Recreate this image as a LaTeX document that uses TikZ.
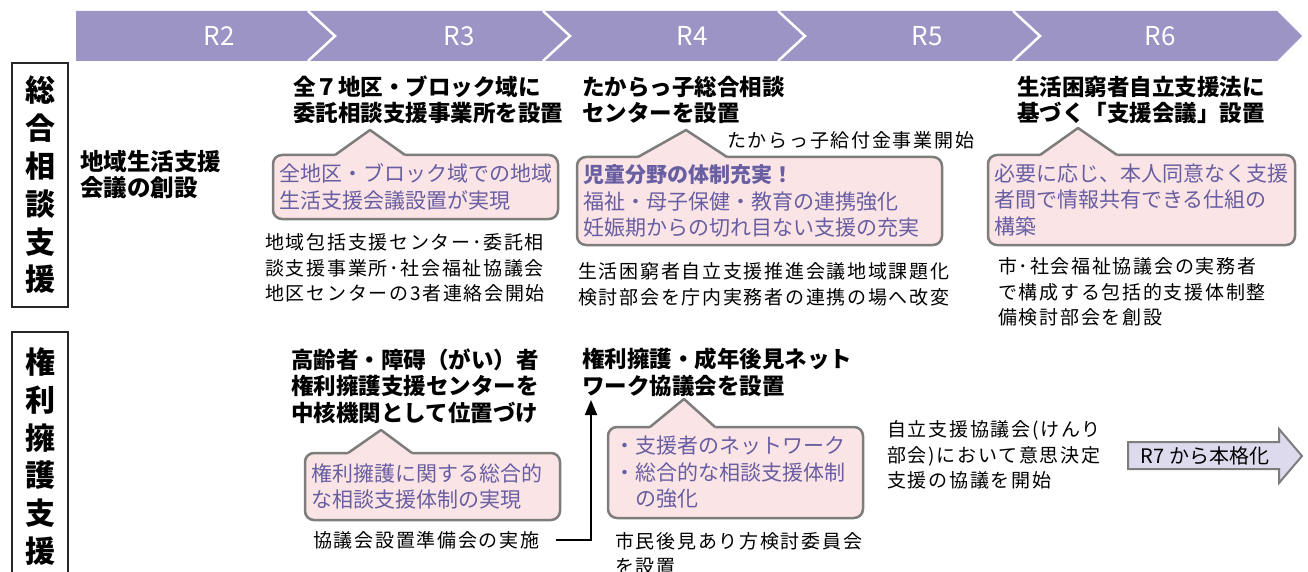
\documentclass[tikz,border=0pt]{standalone}
\usepackage{fontspec}
\setmainfont{Noto Sans CJK JP}
\usetikzlibrary{arrows.meta,positioning}

\definecolor{band}{RGB}{155,148,196}
\definecolor{callfill}{RGB}{251,228,230}
\definecolor{callline}{RGB}{125,125,125}
\definecolor{calltext}{RGB}{104,94,162}
\definecolor{laterfill}{RGB}{220,218,236}

\begin{document}
\begin{tikzpicture}[x=1pt,y=-1pt,
  head/.style={anchor=west, inner sep=0pt, align=left, font=\fontsize{22.5}{26.5}\selectfont\bfseries},
  note/.style={anchor=west, inner sep=0pt, align=left, font=\fontsize{19}{25.5}\selectfont\addfontfeatures{LetterSpace=9}},
  callout/.style={draw=callline, line width=2.5pt, fill=callfill, rounded corners=9pt, text=calltext, align=left, inner xsep=6pt, inner ysep=0pt, font=\fontsize{21}{26.5}\selectfont},
  year/.style={text=white, font=\fontsize{26}{26}\selectfont},
  sidebox/.style={draw=black!85, line width=1.3pt, minimum width=56pt, align=center, font=\fontsize{30}{37.8}\selectfont\bfseries}]
\useasboundingbox (0,0) rectangle (1308,572);

% year band
\fill[band] (76,11) -- (1277,11) -- (1302,36) -- (1277,61) -- (76,61) -- cycle;
\foreach \x in {308,543,778,1013}
  \draw[white, line width=2.5pt] (\x,11) -- (\x+27,36) -- (\x,61);
\foreach \x/\n in {219/2,459/3,692/4,927/5,1160/6}
  \node[year] (r\n) at (\x,36) {R\n};

\node[sidebox, minimum height=244pt] (sogo) at (40,185) {総\\合\\相\\談\\支\\援};
\node[sidebox, minimum height=249pt] (kenri) at (40,456.5) {権\\利\\擁\\護\\支\\援};

% upper row
\node[head, font=\fontsize{23.5}{26}\selectfont\bfseries] (start) at (80,175) {地域生活支援\\会議の創設};
\node[head] (hdA) at (293,100) {全７地区・ブロック域に\\委託相談支援事業所を設置};
\node[head] (hdB) at (582,100) {たからっ子総合相談\\センターを設置};
\node[head] (hdC) at (1017,100) {生活困窮者自立支援法に\\基づく「支援会議」設置};

\node[callout, minimum width=285pt, minimum height=64pt, text width=273pt] (cbA) at (415.5,187) {全地区・ブロック域での地域\\生活支援会議設置が実現};
\node[callout, minimum width=365pt, minimum height=88pt, text width=353pt] (cbB) at (759.5,201) {{\bfseries 児童分野の体制充実！}\\福祉・母子保健・教育の連携強化\\妊娠期からの切れ目ない支援の充実};
\node[callout, minimum width=307pt, minimum height=90pt, text width=295pt] (cbC) at (1141.5,200) {必要に応じ、本人同意なく支援\\者間で情報共有できる仕組の\\構築};

\node[note] (ntK) at (727,140) {たからっ子給付金事業開始};
\node[note] (ntA) at (265,268) {地域包括支援センター･委託相\\談支援事業所･社会福祉協議会\\地区センターの3者連絡会開始};
\node[note] (ntB) at (578,284.5) {生活困窮者自立支援推進会議地域課題化\\検討部会を庁内実務者の連携の場へ改変};
\node[note] (ntC) at (998,292) {市･社会福祉協議会の実務者\\で構成する包括的支援体制整\\備検討部会を創設};

% lower row
\node[head] (hdD) at (291,386) {高齢者・障碍（がい）者\\権利擁護支援センターを\\中核機関として位置づけ};
\node[head] (hdE) at (582,372.5) {権利擁護・成年後見ネット\\ワーク協議会を設置};

\node[callout, minimum width=255pt, minimum height=67pt, text width=243pt] (cbD) at (432.5,486.5) {権利擁護に関する総合的\\な相談支援体制の実現};
\node[callout, minimum width=255pt, minimum height=91pt, text width=243pt] (cbE) at (735.5,472.5) {・支援者のネットワーク\\・総合的な相談支援体制\\\hphantom{・}の強化};

\node[note] (ntD) at (313,540) {協議会設置準備会の実施};
\node[note] (ntE) at (615,553.5) {市民後見あり方検討委員会\\を設置};
\node[note] (ntF) at (887,455) {自立支援協議会(けんり\\部会)において意思決定\\支援の協議を開始};

% callout pointers
\foreach \l/\p/\q/\r/\b in {335/370/130/405/155, 638/686/130/727/157, 1040/1078/128/1117/155, 348/381/430/412/453, 650/684/399/715/427}{
  \fill[callfill] (\l,\b) -- (\p,\q) -- (\r,\b) -- (\r,\b+3) -- (\l,\b+3) -- cycle;
  \draw[callline, line width=2.5pt, line join=round] (\l,\b) -- (\p,\q) -- (\r,\b);
}

\coordinate (uptip) at (591,400);
\draw[line width=2pt, -{Triangle[length=15pt,width=12pt]}] ([xshift=16pt]ntD.east) -| (uptip);

\draw[callline, line width=2pt, fill=laterfill] (1128,442) -- (1279,442) -- (1279,429) -- (1302,456) -- (1279,483) -- (1279,469) -- (1128,469) -- cycle;
\node[font=\fontsize{20}{20}\selectfont] (later) at (1205,456) {R7 から本格化};

\end{tikzpicture}
\end{document}
